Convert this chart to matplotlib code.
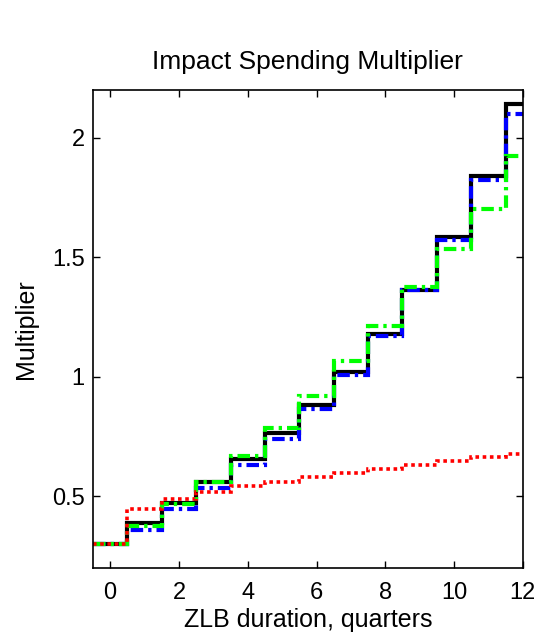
import numpy as np
import matplotlib.pyplot as plt

plt.rcParams['font.family'] = ['Liberation Sans', 'DejaVu Sans']

# ZLB duration in quarters, stairs drawn centred on each integer
quarters = np.arange(0, 13)
edges = np.append(quarters - 0.5, 12.5)

black_vals = [0.30, 0.385, 0.472, 0.558, 0.655, 0.762, 0.882, 1.018, 1.18, 1.364, 1.584, 1.84, 2.143]
blue_vals = [0.30, 0.358, 0.445, 0.534, 0.63, 0.74, 0.863, 1.006, 1.172, 1.361, 1.573, 1.825, 2.099]
green_vals = [0.30, 0.375, 0.468, 0.56, 0.667, 0.784, 0.918, 1.066, 1.211, 1.375, 1.533, 1.703, 1.924]
red_vals = [0.30, 0.447, 0.487, 0.516, 0.542, 0.559, 0.581, 0.598, 0.614, 0.631, 0.647, 0.663, 0.677]

fig = plt.figure(figsize=(5.39, 6.41), dpi=100)
ax = fig.add_axes([0.1725, 0.1144, 0.7975, 0.7452])

dashdot = (0, (3, 1.2, 0.8, 1.2))
ax.stairs(black_vals, edges, baseline=None, color='black', lw=3, ls='-')
ax.stairs(blue_vals, edges, baseline=None, color='#0000ff', lw=3, ls=dashdot)
ax.stairs(green_vals, edges, baseline=None, color='#00ff00', lw=3, ls=dashdot)
ax.stairs(red_vals, edges, baseline=None, color='#ff0000', lw=2.6, ls=(0, (1, 1)))

ax.set_xlim(-0.5, 12)
ax.set_ylim(0.2, 2.2)
ax.set_xticks(np.arange(0, 13, 2))
ax.set_yticks([0.5, 1, 1.5, 2])
ax.set_yticklabels(['0.5', '1', '1.5', '2'])
ax.tick_params(direction='in', top=True, right=True, labelsize=17, length=5, width=1)
ax.tick_params(axis='x', pad=10)
ax.tick_params(axis='y', pad=6)
for s in ax.spines.values():
    s.set_linewidth(1.2)

ax.set_title('Impact Spending Multiplier', fontsize=19, pad=15)
ax.set_xlabel('ZLB duration, quarters', fontsize=18, labelpad=3)
ax.set_ylabel('Multiplier', fontsize=18, labelpad=10)

fig.savefig('out.png', dpi=100)
